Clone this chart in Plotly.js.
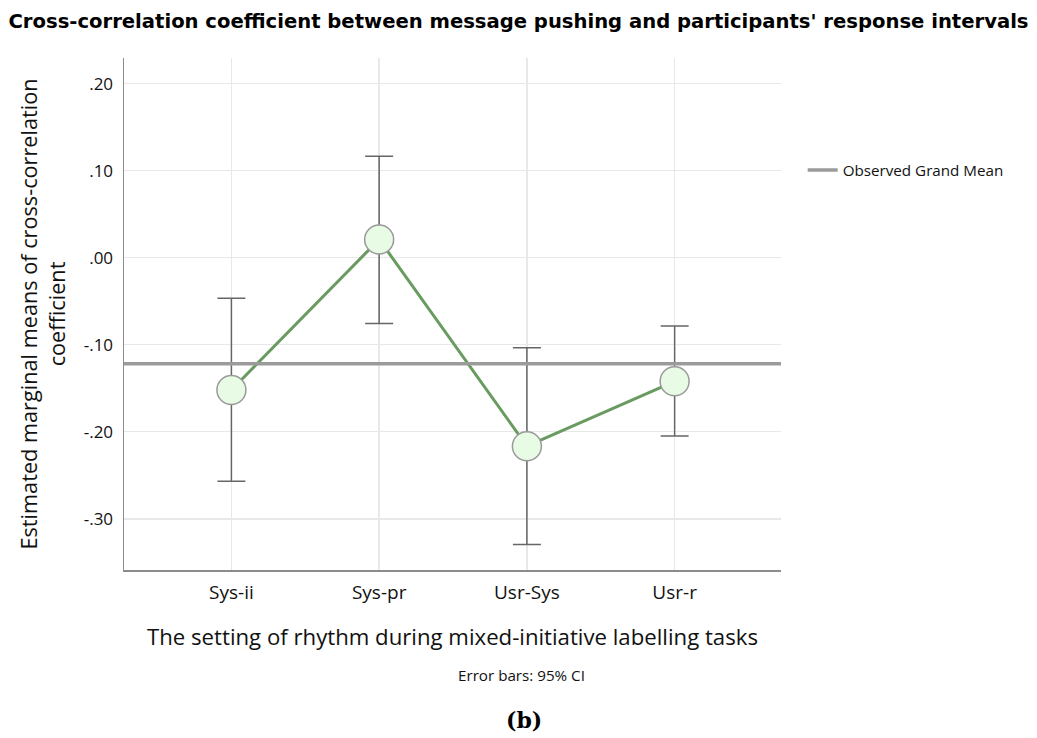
<!DOCTYPE html>
<html>
<head>
<meta charset="utf-8">
<script src="https://cdn.plot.ly/plotly-3.0.1.min.js"></script>
<style>html,body{margin:0;padding:0;background:#fff;}#chart{width:1037px;height:738px;}</style>
</head>
<body>
<div id="chart"></div>
<script>
const categories = ['Sys-ii', 'Sys-pr', 'Usr-Sys', 'Usr-r'];
const means = [-0.1520, 0.0210, -0.2166, -0.1420];
const ciUpper = [-0.0465, 0.1165, -0.1035, -0.0785];
const ciLower = [-0.2570, -0.0755, -0.3296, -0.2050];
const grandMean = -0.1219;
const yTickVals = [0.2, 0.1, 0.0, -0.1, -0.2, -0.3];
const yTickText = ['.20', '.10', '.00', '-.10', '-.20', '-.30'];

const errPlus = means.map((m, i) => ciUpper[i] - m);
const errMinus = means.map((m, i) => m - ciLower[i]);

const font = '"Open Sans", Lato, "Noto Sans", sans-serif';

const traces = [
  {
    x: categories, y: means, type: 'scatter', mode: 'lines+markers',
    showlegend: false,
    line: {color: '#699b61', width: 3},
    marker: {size: 29, color: '#e7fbe5', line: {color: '#9a9a9a', width: 1.5}},
    error_y: {type: 'data', symmetric: false, array: errPlus, arrayminus: errMinus,
              color: '#666666', thickness: 1.5, width: 14}
  },
  {
    x: [null], y: [null], type: 'scatter', mode: 'lines',
    name: 'Observed Grand Mean', showlegend: true,
    line: {color: '#9b9b9b', width: 3.5}
  }
];

const layout = {
  width: 1037, height: 738,
  margin: {l: 124, r: 256, t: 58, b: 168},
  paper_bgcolor: '#ffffff', plot_bgcolor: '#ffffff',
  font: {family: font, color: '#222'},
  title: {text: "Cross-correlation coefficient between message pushing and participants' response intervals",
          font: {family: '"DejaVu Sans", "Liberation Sans", sans-serif', size: 19.6, color: '#000', weight: 'bold'},
          x: 0.5, xanchor: 'center', y: 0.972, yanchor: 'middle'},
  xaxis: {
    type: 'category', range: [-0.727, 3.72],
    showgrid: true, gridcolor: '#e8e8e8', gridwidth: 1.5,
    showline: true, linecolor: '#8c8c8c', linewidth: 1.5,
    ticks: '', ticklabelstandoff: 5, tickfont: {size: 19, color: '#111'},
    zeroline: false,
    title: {text: 'The setting of rhythm during mixed-initiative labelling tasks',
            font: {size: 22.2, color: '#111'}, standoff: 25}
  },
  yaxis: {
    range: [-0.3589, 0.2295],
    tickvals: yTickVals, ticktext: yTickText,
    showgrid: true, gridcolor: '#e8e8e8', gridwidth: 1.5,
    showline: true, linecolor: '#8c8c8c', linewidth: 1.5,
    ticks: '', ticklabelstandoff: 6, tickfont: {size: 17, color: '#111'},
    zeroline: false,
    title: {text: 'Estimated marginal means of cross-correlation<br>coefficient',
            font: {size: 21.7, color: '#111'}, standoff: 12}
  },
  shapes: [{
    type: 'line', xref: 'paper', x0: 0, x1: 1, yref: 'y', y0: grandMean, y1: grandMean,
    line: {color: '#9b9b9b', width: 3.5}, layer: 'above'
  }],
  legend: {x: 1.033, y: 0.781, xanchor: 'left', yanchor: 'middle',
           font: {size: 15.2, color: '#111'}, bgcolor: 'rgba(0,0,0,0)'},
  annotations: [
    {text: 'Error bars: 95% CI', xref: 'paper', yref: 'paper', x: (521-124)/657, y: (570-675)/512,
     xanchor: 'center', yanchor: 'middle', showarrow: false, font: {size: 15.2, color: '#111'}},
    {text: '<b>(b)</b>', xref: 'paper', yref: 'paper', x: (524-124)/657, y: (570-720)/512,
     xanchor: 'center', yanchor: 'middle', showarrow: false,
     font: {family: '"DejaVu Serif", "Liberation Serif", serif', size: 22, color: '#000'}}
  ]
};

Plotly.newPlot('chart', traces, layout, {displayModeBar: false, staticPlot: true});
</script>
</body>
</html>
